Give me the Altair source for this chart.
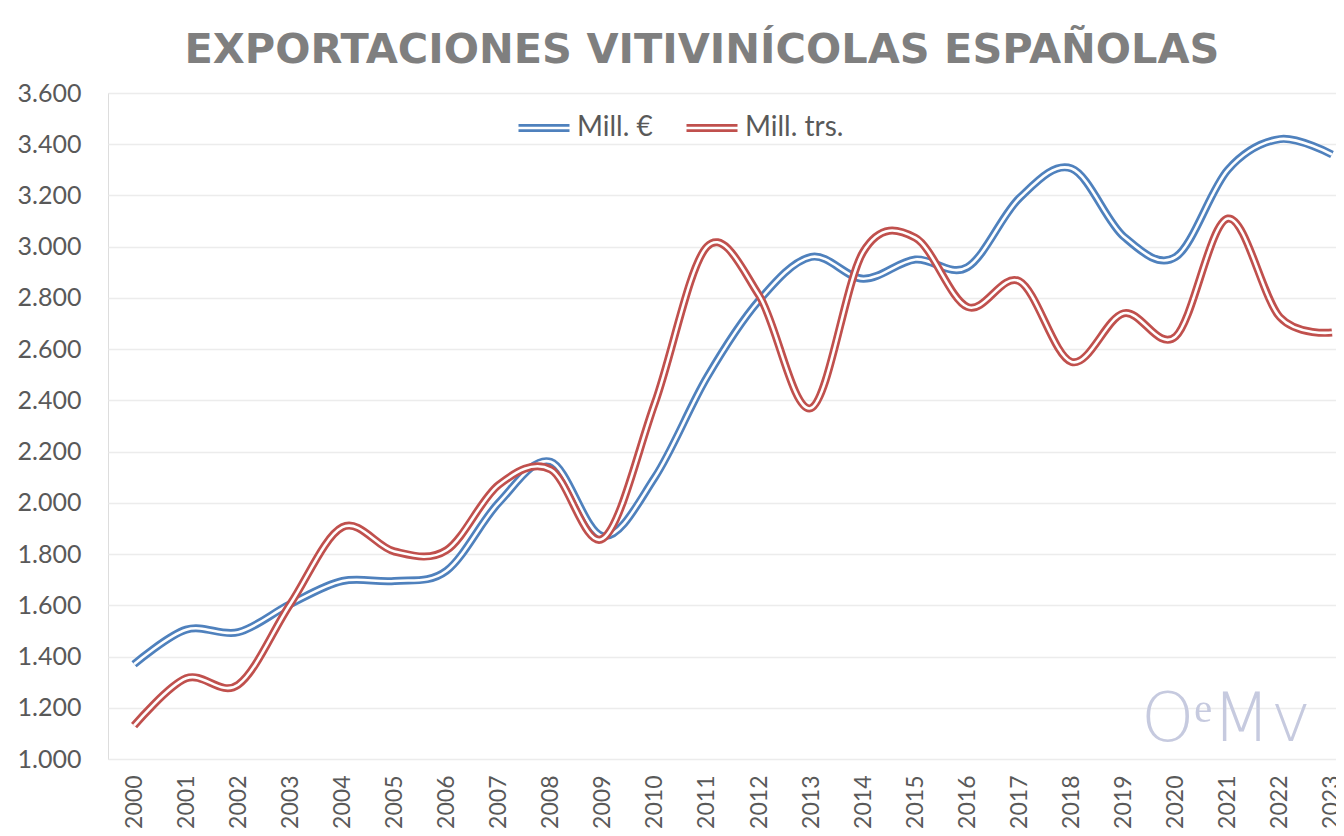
import altair as alt
import pandas as pd

# ---- data ----
years = list(range(2000, 2024))
mill_eur = [1370, 1505, 1495, 1605, 1695, 1695, 1735, 2000, 2160, 1870, 2100, 2490,
            2790, 2960, 2875, 2950, 2920, 3190, 3305, 3040, 2960, 3300, 3420, 3360]
mill_trs = [1130, 1315, 1290, 1605, 1905, 1810, 1815, 2070, 2130, 1860, 2390, 3000,
            2810, 2370, 2980, 3035, 2765, 2865, 2550, 2740, 2650, 3110, 2725, 2665]
series_names = ["Mill. €", "Mill. trs."]
series_colors = ["#4f81bd", "#c0504d"]
y_ticks = list(range(1000, 3601, 200))
title_text = "EXPORTACIONES VITIVINÍCOLAS ESPAÑOLAS"
watermark_text = "OᵉMv"

df = pd.DataFrame({
    "year": years + years,
    "value": mill_eur + mill_trs,
    "serie": [series_names[0]] * len(years) + [series_names[1]] * len(years),
})

LABEL_FONT = "Lato"
LABEL_COLOR = "#595959"

x = alt.X("year:Q",
          scale=alt.Scale(domain=[1999.5, 2023.077], nice=False, zero=False),
          axis=alt.Axis(values=years, format="d", labelAngle=270, labelFont=LABEL_FONT,
                        labelFontSize=23, labelColor=LABEL_COLOR, ticks=False, domain=False,
                        grid=False, labelPadding=16, labelOverlap=False),
          title=None)
y = alt.Y("value:Q",
          scale=alt.Scale(domain=[1000, 3600], nice=False, zero=False),
          axis=alt.Axis(values=y_ticks,
                        labelExpr="replace(format(datum.value, ','), ',', '.')",
                        labelFont=LABEL_FONT, labelFontSize=25, labelColor=LABEL_COLOR,
                        ticks=False, domain=False, grid=True, gridColor="#ececec",
                        gridWidth=1.5, labelPadding=27),
          title=None)
color = alt.Color("serie:N",
                  scale=alt.Scale(domain=series_names, range=series_colors),
                  legend=alt.Legend(orient="none", legendX=409, legendY=8, direction="horizontal",
                                    title=None, symbolType="M-1,-0.1H1M-1,0.1H1",
                                    symbolSize=2601, symbolStrokeWidth=2.7,
                                    labelFont=LABEL_FONT, labelFontSize=28,
                                    labelColor=LABEL_COLOR, labelOffset=6, columnPadding=28))

base = alt.Chart(df)


def thick(name):
    return base.transform_filter(alt.datum.serie == name).mark_line(
        interpolate="cardinal", strokeWidth=8, strokeCap="butt").encode(x=x, y=y, color=color)


def thin(name):
    return base.transform_filter(alt.datum.serie == name).mark_line(
        interpolate="cardinal", strokeWidth=2.6, color="white", strokeCap="butt").encode(x=x, y=y)


logo = alt.Chart(alt.Data(values=[{}])).mark_text(
    text=watermark_text, font="DejaVu Sans", fontWeight=200, fontSize=68,
    color="#c6cadf", baseline="alphabetic", align="center"
).encode(x=alt.value(1118), y=alt.value(648))

chart = alt.layer(
    logo,
    thick(series_names[0]), thin(series_names[0]),
    thick(series_names[1]), thin(series_names[1]),
).properties(
    width=1228, height=666,
    title=alt.Title(title_text, font="DejaVu Sans", fontSize=41.5, fontWeight="bold",
                    color="#7f7f7f", anchor="middle", frame="group", dx=-20, dy=43,
                    baseline="alphabetic", offset=20),
    autosize=alt.AutoSizeParams(type="none"),
    padding={"left": 100, "top": 85, "right": 0, "bottom": 69},
).configure_view(
    stroke="#d9d9d9", strokeWidth=1.3
).configure(background="white")

chart.save("out.html", embed_options={"renderer": "svg", "actions": False})
